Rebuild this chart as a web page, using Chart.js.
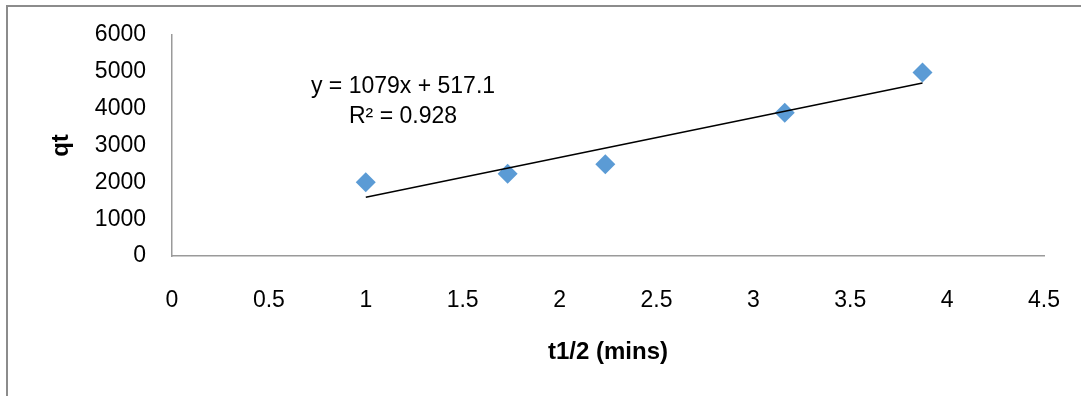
<!DOCTYPE html>
<html><head><meta charset="utf-8">
<script src="https://cdn.jsdelivr.net/npm/chart.js@4.4.1/dist/chart.umd.min.js"></script>
<style>
html,body{margin:0;padding:0;background:#fff;overflow:hidden;}
#wrap{position:relative;width:1081px;height:396px;overflow:hidden;}
#frame{position:absolute;left:6px;top:5px;width:1200px;height:500px;border-left:2px solid #8c8c8c;border-top:2px solid #8c8c8c;}
canvas{position:absolute;left:0;top:0;}
</style></head><body>
<div id="wrap"><div id="frame"></div><canvas id="c" width="1081" height="396"></canvas></div>
<script>
// Data
const xValues = [1, 1.732, 2.236, 3.162, 3.873];          // t1/2 (mins)
const qtValues = [2000, 2230, 2490, 3890, 4980];          // qt
const trendSlope = 1079;
const trendIntercept = 517.1;
const rSquared = 0.928;
const xTickLabels = ['0','0.5','1','1.5','2','2.5','3','3.5','4','4.5'];
const yTickLabels = ['0','1000','2000','3000','4000','5000','6000'];
const xTitle = 't1/2 (mins)';
const yTitle = 'qt';

const FONT = '"Liberation Sans", Arial, sans-serif';
Chart.defaults.font.family = FONT;
Chart.defaults.color = '#000';

const points = xValues.map((x, i) => ({x: x, y: qtValues[i]}));
const xMin = Math.min(...xValues), xMax = Math.max(...xValues);
const trend = [xMin, xMax].map(x => ({x: x, y: trendSlope * x + trendIntercept}));

const eqPlugin = {
  id: 'eqLabel',
  afterDatasetsDraw(chart) {
    const ctx = chart.ctx;
    ctx.save();
    ctx.font = '23px ' + FONT;
    ctx.fillStyle = '#000';
    ctx.textAlign = 'center';
    ctx.textBaseline = 'middle';
    ctx.fillText('y = ' + trendSlope + 'x + ' + trendIntercept, 403, 87);
    ctx.fillText('R² = ' + rSquared, 403, 117);
    ctx.restore();
  }
};

new Chart(document.getElementById('c'), {
  type: 'scatter',
  data: {
    datasets: [
      {
        type: 'line',
        data: trend,
        borderColor: '#000',
        borderWidth: 1.5,
        pointRadius: 0,
        fill: false,
        tension: 0
      },
      {
        data: points,
        pointStyle: 'rectRot',
        pointRadius: 10,
        pointBackgroundColor: '#5B9BD5',
        pointBorderColor: '#5B9BD5',
        pointBorderWidth: 0
      }
    ]
  },
  options: {
    responsive: false,
    animation: false,
    layout: {padding: {top: 35, right: 37, left: 0, bottom: 0}},
    plugins: {legend: {display: false}, tooltip: {enabled: false}},
    scales: {
      x: {
        type: 'linear', min: 0, max: 4.5,
        afterFit(s) { s.height = 140; s.paddingLeft = 0; s.paddingRight = 0; },
        afterBuildTicks(s) { s.ticks = xTickLabels.map(v => ({value: parseFloat(v)})); },
        ticks: {font: {size: 23}, color: '#000', padding: 31, autoSkip: false, maxRotation: 0,
          callback: (v, i) => xTickLabels[i]},
        grid: {drawOnChartArea: false, drawTicks: false},
        border: {display: true, color: '#9a9a9a', width: 1.5},
        title: {display: true, text: xTitle, font: {size: 24, weight: 'bold'}, color: '#000', padding: {top: 0, bottom: 29}}
      },
      y: {
        type: 'linear', min: 0, max: 6000,
        afterFit(s) { s.width = 172; s.paddingTop = 0; s.paddingBottom = 0; },
        afterBuildTicks(s) { s.ticks = yTickLabels.map(v => ({value: parseFloat(v)})); },
        ticks: {font: {size: 23}, color: '#000', padding: 26, autoSkip: false,
          callback: (v, i) => yTickLabels[i]},
        grid: {drawOnChartArea: false, drawTicks: false},
        border: {display: true, color: '#9a9a9a', width: 1.5},
        title: {display: true, text: yTitle, font: {size: 24, weight: 'bold'}, color: '#000', padding: {top: 47, bottom: 0}}
      }
    }
  },
  plugins: [eqPlugin]
});
</script>
</body></html>
